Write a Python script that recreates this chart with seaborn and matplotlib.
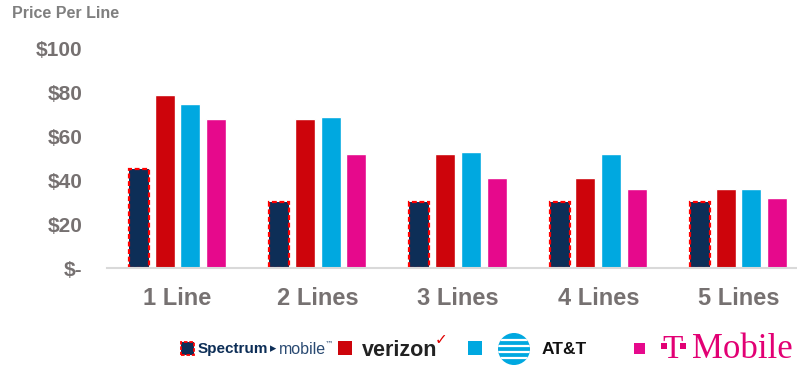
import matplotlib
matplotlib.use("Agg")
import matplotlib.pyplot as plt
from matplotlib.patches import Rectangle, Ellipse
import seaborn as sns
import pandas as pd

# ---- data ----
categories = ["1 Line", "2 Lines", "3 Lines", "4 Lines", "5 Lines"]
carriers = ["Spectrum", "Verizon", "AT&T", "T-Mobile"]
spectrum = [45, 30, 30, 30, 30]
verizon = [79, 68, 52, 41, 36]
att = [75, 69, 53, 52, 36]
tmobile = [68, 52, 41, 36, 32]
ytick_vals = [0, 20, 40, 60, 80, 100]
ytick_labels = ["$-", "$20", "$40", "$60", "$80", "$100"]

colors = ["#0D2E57", "#CD040B", "#00A8E0", "#E6098C"]

rows = []
for name, vals in zip(carriers, [spectrum, verizon, att, tmobile]):
    for c, v in zip(categories, vals):
        rows.append({"lines": c, "price": v, "carrier": name})
df = pd.DataFrame(rows)

sns.set_style("white")
plt.rcParams["font.family"] = ["Liberation Sans", "DejaVu Sans"]

W, H = 797, 369
fig = plt.figure(figsize=(W / 100, H / 100), dpi=100)
ax = fig.add_axes([107.4 / W, (H - 268) / H, (W - 107.4) / W, (268 - 49) / H])

sns.barplot(data=df, x="lines", y="price", hue="carrier", order=categories,
            hue_order=carriers, palette=colors, width=0.733, gap=0.22,
            saturation=1, legend=False, ax=ax, errorbar=None)

for p in ax.containers[0]:
    p.set_edgecolor("#FF0000")
    p.set_linestyle((0, (2.2, 1.2)))
    p.set_linewidth(1.6)

ax.set_ylim(0, 100)
ax.set_xlim(-0.5, 4.417)
ax.set_yticks(ytick_vals)
ax.set_yticklabels(ytick_labels)
ax.set_xlabel("")
ax.set_ylabel("")
gray = "#767171"
ax.tick_params(axis="y", length=0, pad=18, labelsize=15, labelcolor=gray)
ax.tick_params(axis="x", length=0, pad=13.5, labelsize=17, labelcolor=gray)
for lab in ax.get_xticklabels() + ax.get_yticklabels():
    lab.set_fontweight("bold")
for s in ["top", "right", "left"]:
    ax.spines[s].set_visible(False)
ax.spines["bottom"].set_color("#D9D9D9")
ax.spines["bottom"].set_linewidth(1.5)

fig.text(12 / W, 1 - 14 / H, "Price Per Line", fontsize=11.5, fontweight="bold",
         color="#7F7F7F", ha="left", va="center")

# ---- legend (manual) ----
def fx(x):
    return x / W

def fy(y):
    return 1 - y / H

ly = 349
# Spectrum
fig.add_artist(Rectangle((fx(181), fy(355)), 13 / W, 13 / H, transform=fig.transFigure,
                         facecolor=colors[0], edgecolor="#FF0000", lw=1.3,
                         linestyle=(0, (2, 1))))
fig.text(fx(198), fy(ly), "Spectrum", fontsize=11, fontweight="bold", color="#0D2E57",
         ha="left", va="center")
fig.text(fx(270), fy(ly), "\u25B8", fontsize=9, color="#0D2E57", ha="left", va="center",
         family=["DejaVu Sans"])
fig.text(fx(279), fy(ly), "mobile", fontsize=11.5, color="#2A4A72", ha="left",
         va="center", family=["Liberation Sans", "DejaVu Sans"])
fig.text(fx(325), fy(344), "\u2122", fontsize=6, color="#2A4A72", ha="left",
         va="center", family=["DejaVu Sans"])
# Verizon
fig.add_artist(Rectangle((fx(338), fy(355)), 14 / W, 14 / H, transform=fig.transFigure,
                         facecolor=colors[1], edgecolor="none"))
fig.text(fx(362), fy(351), "verizon", fontsize=15.5, fontweight="bold", color="#222222",
         ha="left", va="center")
fig.text(fx(435), fy(340), "\u2713", fontsize=11, color="#E00000", ha="left",
         va="center", family=["DejaVu Sans"])
# AT&T
fig.add_artist(Rectangle((fx(468), fy(355)), 14 / W, 14 / H, transform=fig.transFigure,
                         facecolor=colors[2], edgecolor="none"))
cx, cy, r = 514, 349, 16
globe = Ellipse((fx(cx), fy(cy)), 2 * r / W, 2 * r / H, transform=fig.transFigure,
                facecolor="#00A8E0", edgecolor="none")
fig.add_artist(globe)
for dy in [-9, -3, 3, 9]:
    ln = plt.Line2D([fx(cx - r), fx(cx + r)], [fy(cy + dy), fy(cy + dy)],
                    transform=fig.transFigure, color="white", lw=1.6)
    ln.set_clip_path(globe)
    fig.add_artist(ln)
fig.text(fx(542), fy(ly), "AT&T", fontsize=12.5, fontweight="bold", color="#111111",
         ha="left", va="center")
# T-Mobile
fig.add_artist(Rectangle((fx(634), fy(354)), 11 / W, 11 / H, transform=fig.transFigure,
                         facecolor=colors[3], edgecolor="none"))
fig.text(fx(673), fy(350), "T", fontsize=24, color="#E20074", ha="center",
         va="center", family=["Liberation Serif"])
for sx in (661, 680):
    fig.add_artist(Rectangle((fx(sx), fy(349)), 6 / W, 6 / H, transform=fig.transFigure,
                             facecolor="#E20074", edgecolor="none"))
fig.text(fx(692), fy(350), "Mobile", fontsize=25, color="#E20074", ha="left",
         va="center", family=["Liberation Serif"])

fig.savefig("out.png", dpi=100)
